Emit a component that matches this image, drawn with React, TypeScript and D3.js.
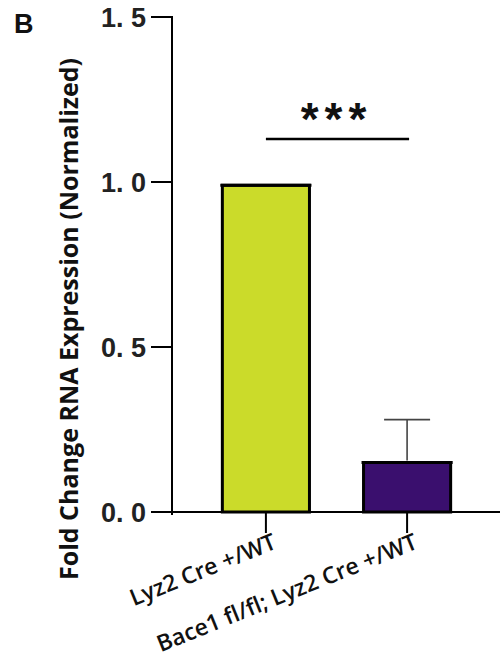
import * as d3 from 'd3';

// Genotype groups and normalized fold change values
const groups = ['Lyz2 Cre +/WT', 'Bace1 fl/fl; Lyz2 Cre +/WT'];
const means = [0.99, 0.15];
const errors = [0, 0.13];
const barColors = ['#CBDB2A', '#3A0F6E'];
const yTicks = [0, 0.5, 1.0, 1.5];
const yTickLabels = ['0. 0', '0. 5', '1. 0', '1. 5'];

const W = 500;
const H = 659;
const axisX = 172;
const axisY = 512;

export default function App() {
  const y = d3.scaleLinear().domain([0, 1.5]).range([axisY, 17]);
  const x = d3.scaleBand().domain(groups).range([180, 493]).paddingInner(0.383).paddingOuter(0.3);

  const sigY = y(1.13);
  const sigX1 = x(groups[0])! + x.bandwidth() / 2;
  const sigX2 = x(groups[1])! + x.bandwidth() / 2;

  return (
    <svg width={W} height={H} style={{ position: 'absolute', left: 0, top: 0, background: '#fff' }}>
      {/* panel letter */}
      <text x={14} y={33} fontFamily="Liberation Sans, Arial, sans-serif" fontWeight="bold" fontSize={27} fill="#111">B</text>

      {/* y axis title */}
      <text
        transform={`translate(${78},${319}) rotate(-90)`}
        textAnchor="middle"
        fontFamily="'Open Sans', sans-serif"
        fontWeight={700}
        fontSize={25}
        fill="#111"
      >
        Fold Change RNA Expression (Normalized)
      </text>

      {/* bars */}
      {groups.map((g, i) => (
        <g key={g}>
          <rect
            x={x(g)}
            y={y(means[i])}
            width={x.bandwidth()}
            height={axisY - y(means[i])}
            fill={barColors[i]}
            stroke="#000"
            strokeWidth={3}
          />
          <line
            x1={x(g)! - 2}
            x2={x(g)! + x.bandwidth() + 2}
            y1={y(means[i])}
            y2={y(means[i])}
            stroke="#000"
            strokeWidth={3}
          />
        </g>
      ))}

      {/* error bars (upper only) */}
      {groups.map((g, i) =>
        errors[i] > 0 ? (
          <g key={g} stroke="#444" strokeWidth={1.6}>
            <line x1={x(g)! + x.bandwidth() / 2} x2={x(g)! + x.bandwidth() / 2} y1={y(means[i]) - 2} y2={y(means[i] + errors[i])} />
            <line x1={x(g)! + x.bandwidth() / 2 - 23} x2={x(g)! + x.bandwidth() / 2 + 23} y1={y(means[i] + errors[i])} y2={y(means[i] + errors[i])} />
          </g>
        ) : null
      )}

      {/* y axis */}
      <line x1={axisX} x2={axisX} y1={y(1.5) - 1} y2={axisY + 3} stroke="#000" strokeWidth={2} />
      {yTicks.map((t, i) => (
        <g key={t}>
          <line x1={axisX - 21} x2={axisX} y1={y(t)} y2={y(t)} stroke="#000" strokeWidth={2} />
          <text
            x={146}
            y={y(t)}
            dy="0.36em"
            textAnchor="end"
            fontFamily="Liberation Sans, Arial, sans-serif"
            fontWeight="bold"
            fontSize={27}
            fill="#222"
          >
            {yTickLabels[i]}
          </text>
        </g>
      ))}

      {/* x axis */}
      <line x1={axisX - 21} x2={W} y1={axisY} y2={axisY} stroke="#000" strokeWidth={2} />
      {groups.map((g) => {
        const cx = x(g)! + x.bandwidth() / 2;
        return (
          <g key={g}>
            <line x1={cx} x2={cx} y1={axisY} y2={axisY + 21} stroke="#000" strokeWidth={2} />
            <text
              transform={`translate(${cx + 12},${axisY + 36}) rotate(-22)`}
              textAnchor="end"
              fontFamily="'Open Sans', sans-serif"
              fontWeight={600}
              fontSize={23}
              fill="#111"
            >
              {g}
            </text>
          </g>
        );
      })}

      {/* significance */}
      <line x1={sigX1} x2={sigX2 + 2} y1={sigY} y2={sigY} stroke="#000" strokeWidth={2.5} />
      <text
        x={(sigX1 + sigX2) / 2}
        y={sigY - 4}
        textAnchor="middle"
        fontFamily="Liberation Sans, Arial, sans-serif"
        fontWeight="bold"
        fontSize={46}
        letterSpacing={6}
        fill="#111"
      >
        ***
      </text>
    </svg>
  );
}
